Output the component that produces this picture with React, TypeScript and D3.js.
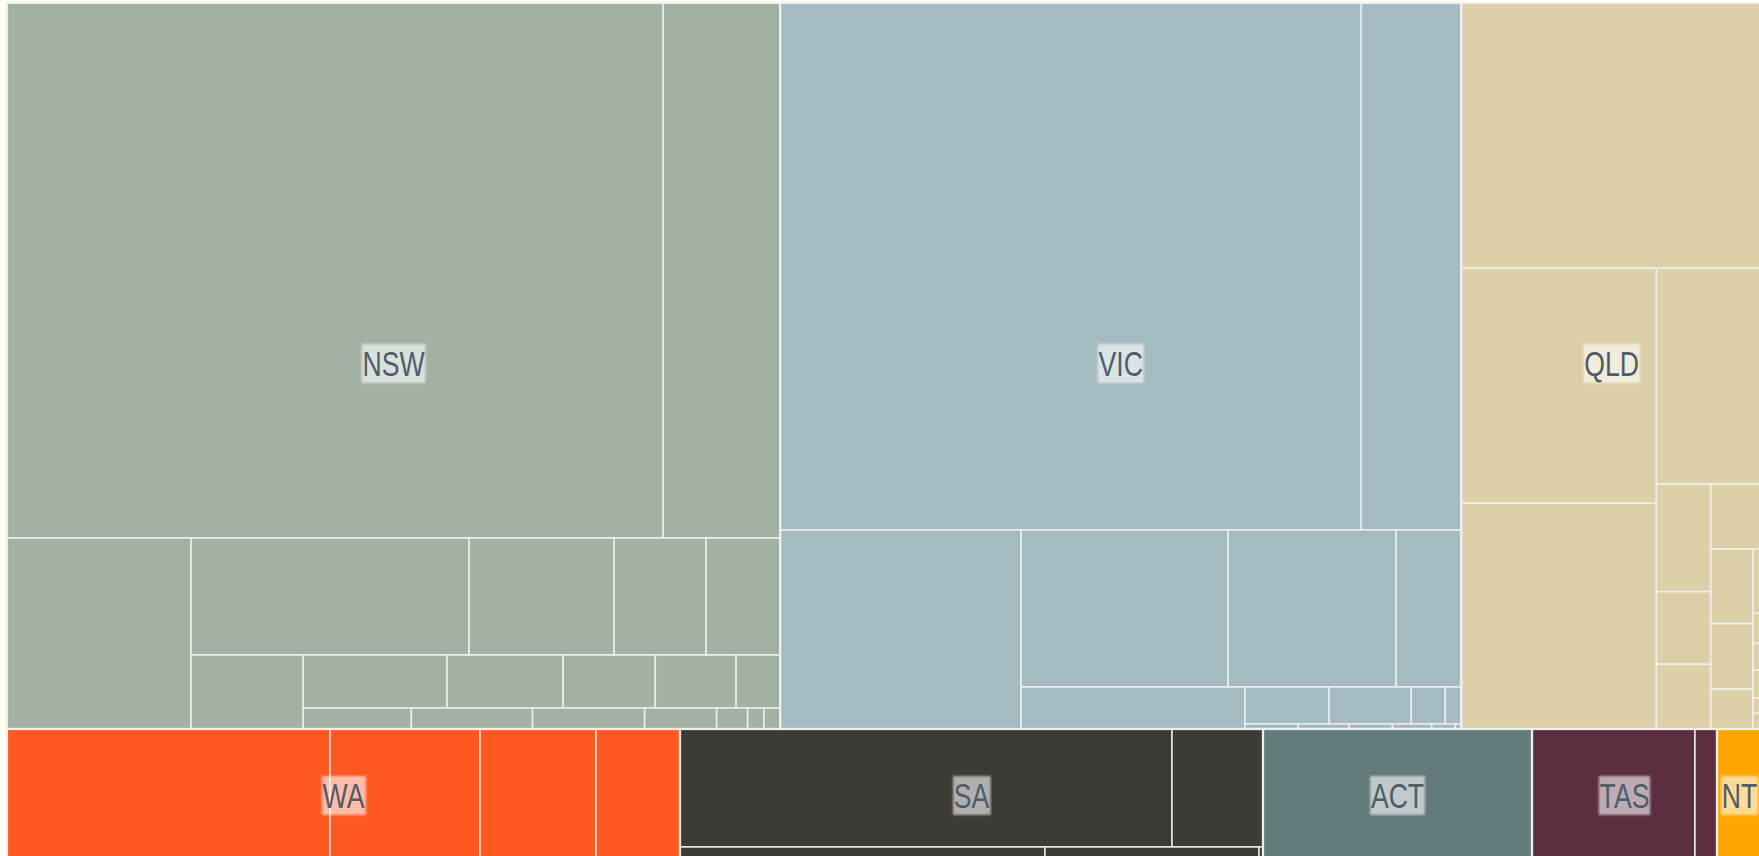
import React, { useEffect, useRef } from 'react';
import * as d3 from 'd3';

const WIDTH = 1759;
const HEIGHT = 856;
const CHART_LEFT = 7;
const CHART_TOP = 3;
const CHART_WIDTH = 1755;
const CHART_HEIGHT = 864;
// layout is worked out on a canvas this much wider, then squeezed back to CHART_WIDTH
const SQUEEZE = 1.25;
const LABEL_SQUEEZE = 0.74;

const states = ['NSW', 'VIC', 'QLD', 'WA', 'SA', 'ACT', 'TAS', 'NT'];
const stateColors = ['#a3b1a4', '#a5bbc2', '#ddd0a8', '#ff5722', '#3e3a35', '#637a7a', '#5b2e42', '#ffa600'];

// region values inside each state, in drawing order
const nswValues = [35096, 6260, 3514, 3253, 1697, 1076, 866, 829, 763, 615, 488, 429, 233, 227, 254, 235, 151, 65, 34, 34];
const vicValues = [30619, 5270, 4796, 3250, 2638, 1021, 941, 311, 303, 126, 59, 27, 26, 22, 20, 12, 3];
const qldValues = [7977, 4583, 4407, 2279, 583, 394, 351, 332, 315, 277, 168, 58, 27, 24, 25, 14, 14];
const waValues = [4457, 2070, 1601, 1159];
const saValues = [5806, 1074, 730, 424, 8, 4];
const actValues = [3712];
const tasValues = [2249, 304];
const ntValues = [621];

const regionValues = [nswValues, vicValues, qldValues, waValues, saValues, actValues, tasValues, ntValues];

// squarified rows that switch direction after every row, starting with a row across the top
function alternatingSquarify(parent: any, x0: number, y0: number, x1: number, y1: number) {
    const nodes = parent.children;
    const scale = parent.value ? ((x1 - x0) * (y1 - y0)) / parent.value : 0;
    const rect = { x: x0, y: y0, w: x1 - x0, h: y1 - y0 };
    const aspect = (a: number, b: number) => Math.max(a / b, b / a);
    let across = true;
    let row: any[] = [];
    let rowArea = 0;

    const layRow = () => {
        const side = across ? rect.w : rect.h;
        const thick = side ? rowArea / side : 0;
        let pos = across ? rect.x : rect.y;
        for (const n of row) {
            const len = thick ? (n.value * scale) / thick : 0;
            if (across) {
                n.x0 = pos; n.x1 = pos + len; n.y0 = rect.y; n.y1 = rect.y + thick;
            } else {
                n.y0 = pos; n.y1 = pos + len; n.x0 = rect.x; n.x1 = rect.x + thick;
            }
            pos += len;
        }
        if (across) { rect.y += thick; rect.h -= thick; } else { rect.x += thick; rect.w -= thick; }
        across = !across;
        row = [];
        rowArea = 0;
    };

    for (const n of nodes) {
        const area = n.value * scale;
        if (row.length) {
            const side = across ? rect.w : rect.h;
            const prev = row[row.length - 1].value * scale;
            const before = rowArea / side;
            const after = (rowArea + area) / side;
            // stop the row once the last cell in it starts getting worse
            if (aspect(prev / after, after) > aspect(prev / before, before)) layRow();
        }
        row.push(n);
        rowArea += area;
    }
    if (row.length) layRow();
}

export default function App() {
    const ref = useRef<SVGSVGElement>(null);

    useEffect(() => {
        const svg = d3.select(ref.current);
        svg.selectAll('*').remove();

        svg.append('rect')
            .attr('width', WIDTH)
            .attr('height', HEIGHT)
            .attr('fill', '#fffef2');

        svg.append('defs')
            .append('filter')
            .attr('id', 'soft')
            .attr('x', '-20%').attr('y', '-20%')
            .attr('width', '140%').attr('height', '140%')
            .append('feGaussianBlur')
            .attr('stdDeviation', 1.3);

        const data = {
            name: 'Australia',
            children: states.map((s, i) => ({
                name: s,
                children: regionValues[i].map((v, j) => ({ name: s + ' ' + (j + 1), value: v }))
            }))
        };

        const root = d3.hierarchy<any>(data).sum(d => d.value || 0);
        d3.treemap<any>()
            .size([CHART_WIDTH * SQUEEZE, CHART_HEIGHT])
            .tile(alternatingSquarify as any)
            .round(false)(root);

        const x = d3.scaleLinear().domain([0, CHART_WIDTH * SQUEEZE]).range([CHART_LEFT, CHART_LEFT + CHART_WIDTH]);
        const y = d3.scaleLinear().domain([0, CHART_HEIGHT]).range([CHART_TOP, CHART_TOP + CHART_HEIGHT]);
        const color = d3.scaleOrdinal<string, string>().domain(states).range(stateColors);

        const nodes: any[] = root.leaves();
        svg.append('g')
            .selectAll('rect')
            .data(nodes)
            .join('rect')
            .attr('x', d => x(d.x0))
            .attr('y', d => y(d.y0))
            .attr('width', d => Math.max(0, x(d.x1) - x(d.x0)))
            .attr('height', d => Math.max(0, y(d.y1) - y(d.y0)))
            .attr('fill', d => color(d.parent.data.name))
            .attr('stroke', 'rgba(238,241,238,0.85)')
            .attr('stroke-width', 1.7);

        const groups: any[] = root.children || [];
        svg.append('g')
            .selectAll('rect')
            .data(groups)
            .join('rect')
            .attr('x', d => x(d.x0))
            .attr('y', d => y(d.y0))
            .attr('width', d => x(d.x1) - x(d.x0))
            .attr('height', d => y(d.y1) - y(d.y0))
            .attr('fill', 'none')
            .attr('stroke', 'rgba(236,240,238,0.85)')
            .attr('stroke-width', 2.2);

        const labels = svg.append('g')
            .selectAll('g')
            .data(groups)
            .join('g')
            .attr('transform', d => 'translate(' + (x(d.x0) + x(d.x1)) / 2 + ',' + (y(d.y0) + y(d.y1)) / 2 + ') scale(' + LABEL_SQUEEZE + ',1)');

        labels.append('text')
            .attr('text-anchor', 'middle')
            .attr('dy', 10)
            .attr('font-family', '"Liberation Sans", Arial, sans-serif')
            .attr('font-size', 36)
            .attr('fill', '#4e5d69')
            .text(d => d.data.name);

        labels.each(function () {
            const g = d3.select(this);
            const box = (g.select('text').node() as SVGTextElement).getBBox();
            g.insert('rect', 'text')
                .attr('x', box.x - 1)
                .attr('y', box.y + 1)
                .attr('width', box.width + 2)
                .attr('height', box.height - 2)
                .attr('fill', 'rgba(255,255,255,0.6)')
                .attr('filter', 'url(#soft)');
        });
    }, []);

    return (
        <svg
            ref={ref}
            width={WIDTH}
            height={HEIGHT}
            style={{ position: 'fixed', left: 0, top: 0, display: 'block' }}
        />
    );
}
